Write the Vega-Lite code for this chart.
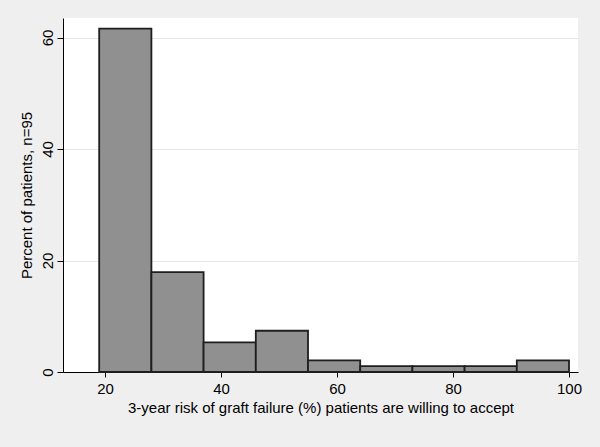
{
  "$schema": "https://vega.github.io/schema/vega-lite/v6.json",
  "autosize": {"type": "none"},
  "width": 515,
  "height": 354,
  "padding": {"left": 63, "top": 18, "right": 22, "bottom": 75},
  "background": "#efefef",
  "config": {
    "view": {"fill": "white", "stroke": null},
    "font": "Liberation Sans"
  },
  "data": {
    "values": [
      {"lo": 19, "hi": 28, "pct": 61.6},
      {"lo": 28, "hi": 37, "pct": 17.9},
      {"lo": 37, "hi": 46, "pct": 5.3},
      {"lo": 46, "hi": 55, "pct": 7.4},
      {"lo": 55, "hi": 64, "pct": 2.1},
      {"lo": 64, "hi": 73, "pct": 1.05},
      {"lo": 73, "hi": 82, "pct": 1.05},
      {"lo": 82, "hi": 91, "pct": 1.05},
      {"lo": 91, "hi": 100, "pct": 2.1}
    ]
  },
  "mark": {"type": "rect", "fill": "#909090", "stroke": "#1e1e1e", "strokeWidth": 1.8},
  "encoding": {
    "x": {
      "field": "lo", "type": "quantitative",
      "scale": {"domain": [12.76, 101.55], "nice": false, "zero": false},
      "axis": {
        "title": "3-year risk of graft failure (%) patients are willing to accept",
        "values": [20, 40, 60, 80, 100],
        "grid": false,
        "domainColor": "black", "tickColor": "black",
        "tickSize": 5, "labelPadding": 4,
        "labelFontSize": 15, "labelColor": "black",
        "titleFontSize": 15, "titleFontWeight": "normal", "titleColor": "black",
        "titlePadding": 4
      }
    },
    "x2": {"field": "hi"},
    "y": {
      "field": "pct", "type": "quantitative",
      "scale": {"domain": [0, 63.5], "nice": false},
      "axis": {
        "title": "Percent of patients, n=95",
        "values": [0, 20, 40, 60],
        "grid": true, "gridColor": "#e6e6e6", "gridWidth": 1,
        "domainColor": "black", "tickColor": "black",
        "tickSize": 6, "labelAngle": 270, "labelAlign": "center", "labelBaseline": "bottom",
        "labelPadding": 2,
        "labelFontSize": 15, "labelColor": "black",
        "titleFontSize": 15, "titleFontWeight": "normal", "titleColor": "black",
        "titlePadding": 6
      }
    },
    "y2": {"datum": 0}
  }
}
